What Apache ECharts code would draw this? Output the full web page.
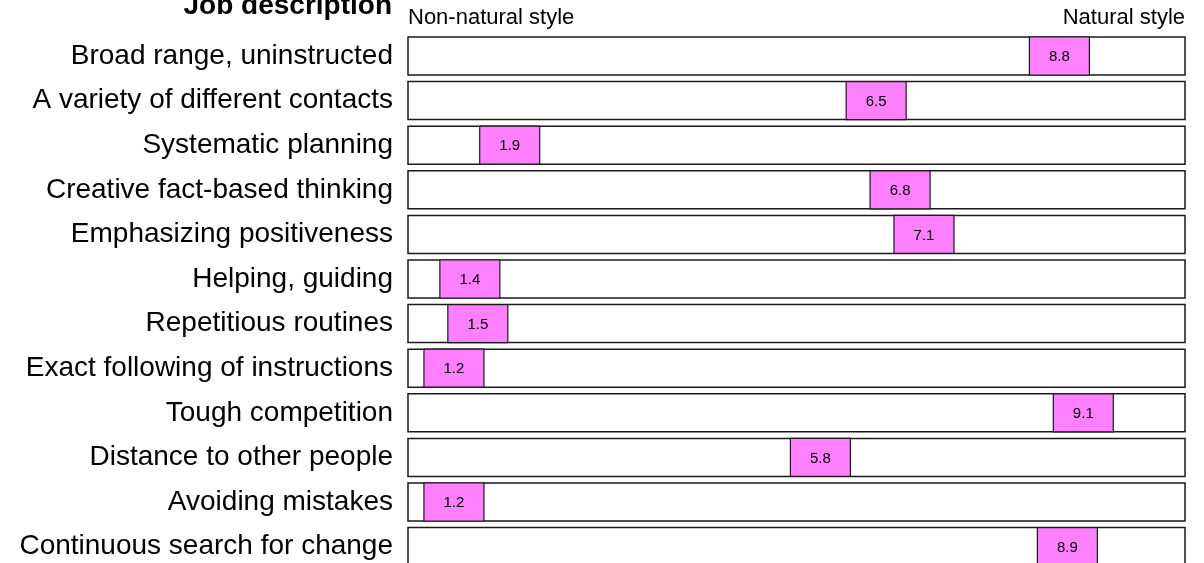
<!DOCTYPE html>
<html>
<head>
<meta charset="utf-8">
<script src="https://cdn.jsdelivr.net/npm/echarts@6/dist/echarts.min.js"></script>
<style>
html,body{margin:0;padding:0;background:#fff;}
#chart{width:1204px;height:563px;}
</style>
</head>
<body>
<div id="chart"></div>
<script>
const categories = [
  "Broad range, uninstructed",
  "A variety of different contacts",
  "Systematic planning",
  "Creative fact-based thinking",
  "Emphasizing positiveness",
  "Helping, guiding",
  "Repetitious routines",
  "Exact following of instructions",
  "Tough competition",
  "Distance to other people",
  "Avoiding mistakes",
  "Continuous search for change"
];
const values = [8.8, 6.5, 1.9, 6.8, 7.1, 1.4, 1.5, 1.2, 9.1, 5.8, 1.2, 8.9];
const scaleMin = 1;
const scaleMax = 10;
const title = "Job description";
const leftLabel = "Non-natural style";
const rightLabel = "Natural style";

const FONT = '"Liberation Sans", Arial, Helvetica, sans-serif';
const BOX_W = 60;
const chart = echarts.init(document.getElementById('chart'), null, {renderer: 'canvas'});

const data = values.map((v, i) => [v, i]);

chart.setOption({
  animation: false,
  backgroundColor: '#fff',
  grid: {left: 438, width: 717, top: 33.7, height: 535.2, containLabel: false, outerBoundsMode: 'none'},
  xAxis: {
    type: 'value', min: scaleMin, max: scaleMax,
    show: false
  },
  yAxis: {
    type: 'category', data: categories, inverse: true,
    axisLine: {show: false}, axisTick: {show: false}, splitLine: {show: false},
    axisLabel: {margin: 45, color: '#000', fontSize: 28, fontFamily: FONT, padding: [4, 0, 0, 0]}
  },
  graphic: [
    {type: 'text', right: 812, top: -8, style: {text: title, font: 'bold 28px ' + FONT, fill: '#000', align: 'right'}},
    {type: 'text', left: 408, top: 7, style: {text: leftLabel, font: '22px ' + FONT, fill: '#000'}},
    {type: 'text', right: 19, top: 7, style: {text: rightLabel, font: '22px ' + FONT, fill: '#000'}}
  ],
  series: [{
    type: 'custom',
    coordinateSystem: 'cartesian2d',
    encode: {x: 0, y: 1},
    data: data,
    clip: false,
    renderItem: function (params, api) {
      const v = api.value(0);
      const idx = api.value(1);
      const c = api.coord([v, idx]);
      const l = api.coord([scaleMin, idx])[0] - BOX_W / 2;
      const r = api.coord([scaleMax, idx])[0] + BOX_W / 2;
      const band = api.size([0, 1])[1];
      const h = band * 0.852;
      const top = c[1] - h / 2;
      return {
        type: 'group',
        children: [
          {type: 'rect', shape: {x: l, y: top, width: r - l, height: h},
           style: {fill: '#fff', stroke: '#1a1a1a', lineWidth: 1.5}},
          {type: 'rect', shape: {x: c[0] - BOX_W / 2, y: top, width: BOX_W, height: h},
           style: {fill: '#ff80ff', stroke: '#1a1a1a', lineWidth: 1.2}},
          {type: 'text', x: c[0], y: c[1] + 1,
           style: {text: v.toFixed(1), font: '15px ' + FONT, fill: '#000', align: 'center', verticalAlign: 'middle'}}
        ]
      };
    }
  }]
});
</script>
</body>
</html>
